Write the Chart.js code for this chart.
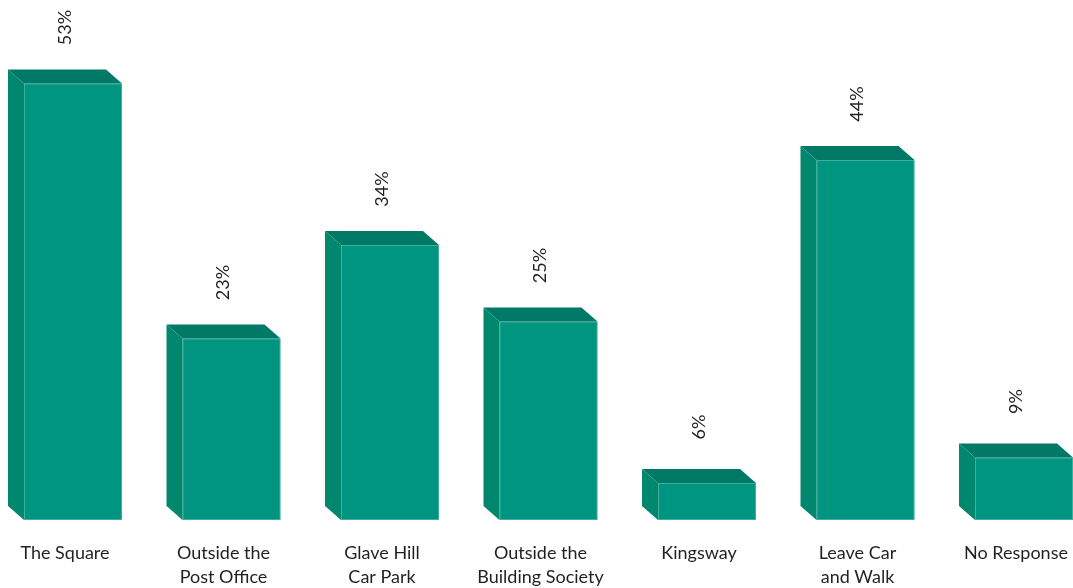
<!DOCTYPE html>
<html>
<head>
<meta charset="utf-8">
<script src="https://cdn.jsdelivr.net/npm/chart.js@4.4.1/dist/chart.umd.min.js"></script>
<style>
  html, body { margin: 0; padding: 0; background: #fff; }
  #wrap { width: 1073px; height: 588px; position: relative; }
</style>
</head>
<body>
<div id="wrap"><canvas id="chart"></canvas></div>
<script>
// categories and values (percent)
const categories = [
    ['The Square'],
    ['Outside the', 'Post Office'],
    ['Glave Hill', 'Car Park'],
    ['Outside the', 'Building Society'],
    ['Kingsway'],
    ['Leave Car', 'and Walk'],
    ['No Response']
];
const values = [53, 23, 34, 25, 6, 44, 9];

const FRONT = '#009580';
const TOP = '#007a66';
const SIDE = '#00886f';
const TEXT = '#231f20';
const FONT = '18px Lato, "Open Sans", sans-serif';
const DX = 16, DY = 14;

// draws the 3d boxes, the rotated value labels and the category labels
const box3d = {
    id: 'box3d',
    afterDatasetsDraw(chart) {
        const ctx = chart.ctx;
        const meta = chart.getDatasetMeta(0);
        const base = chart.scales.y.getPixelForValue(0);
        ctx.save();
        meta.data.forEach((bar, i) => {
            const half = bar.width / 2;
            const l = bar.x - half;
            const r = bar.x + half;
            const backTop = bar.y;
            const frontTop = bar.y + DY;
            const mid = bar.x - DX / 2;

            // front face
            ctx.fillStyle = FRONT;
            ctx.fillRect(l, frontTop, r - l, base - frontTop);
            ctx.strokeStyle = 'rgba(255,255,255,0.25)';
            ctx.lineWidth = 1;
            ctx.strokeRect(l + 0.5, frontTop + 0.5, r - l - 1, base - frontTop - 1);

            // top face
            ctx.fillStyle = TOP;
            ctx.beginPath();
            ctx.moveTo(l - DX, backTop);
            ctx.lineTo(r - DX, backTop);
            ctx.lineTo(r, frontTop);
            ctx.lineTo(l, frontTop);
            ctx.closePath();
            ctx.fill();

            // side face
            ctx.fillStyle = SIDE;
            ctx.beginPath();
            ctx.moveTo(l - DX, backTop);
            ctx.lineTo(l, frontTop);
            ctx.lineTo(l, base);
            ctx.lineTo(l - DX, base - DY);
            ctx.closePath();
            ctx.fill();

            // value label, rotated
            ctx.save();
            ctx.translate(mid, backTop - 42);
            ctx.rotate(-Math.PI / 2);
            ctx.fillStyle = TEXT;
            ctx.font = FONT;
            ctx.textAlign = 'center';
            ctx.textBaseline = 'middle';
            ctx.fillText(values[i] + '%', 0, 0);
            ctx.restore();

            // category label
            ctx.fillStyle = TEXT;
            ctx.font = FONT;
            ctx.textAlign = 'center';
            ctx.textBaseline = 'middle';
            categories[i].forEach((line, k) => {
                ctx.fillText(line, mid, base + 33 + k * 24);
            });
        });
        ctx.restore();
    }
};

new Chart(document.getElementById('chart'), {
    type: 'bar',
    data: {
        labels: categories,
        datasets: [{
            data: values,
            backgroundColor: 'rgba(0,0,0,0)',
            borderWidth: 0,
            barThickness: 98,
            clip: false
        }]
    },
    options: {
        responsive: true,
        maintainAspectRatio: false,
        animation: false,
        layout: { padding: { left: 73, right: 49, top: 20, bottom: 68 } },
        plugins: {
            legend: { display: false },
            tooltip: { enabled: false }
        },
        scales: {
            x: {
                display: false,
                offset: false
            },
            y: {
                display: false,
                min: 0,
                max: 500 / 8.5
            }
        }
    },
    plugins: [box3d]
});
</script>
</body>
</html>
